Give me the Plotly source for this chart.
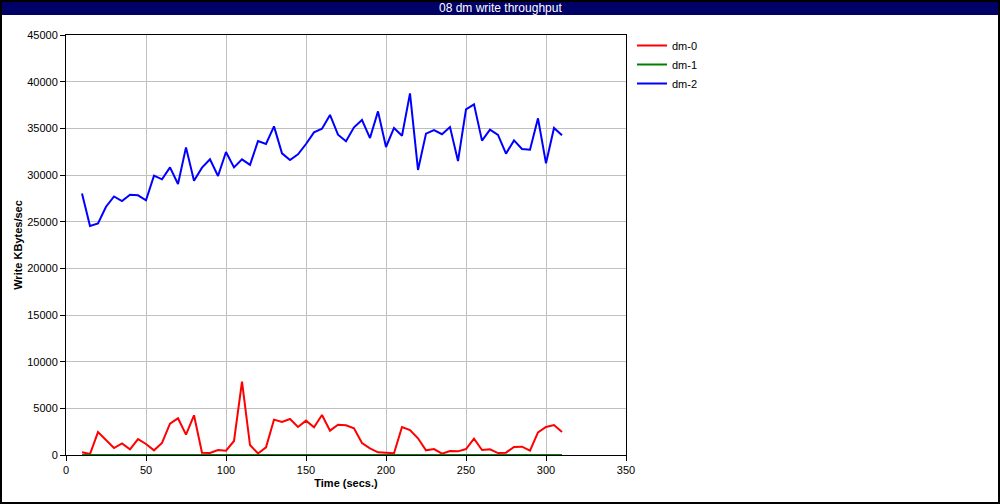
import plotly.graph_objects as go

time_s = list(range(10, 311, 5))

dm0 = [290, 100, 2460, 1610, 750, 1250, 610, 1710, 1180, 500,
       1290, 3360, 3930, 2180, 4250, 250, 210, 540, 460, 1500,
       7860, 1070, 160, 820, 3790, 3540, 3860, 3000, 3680, 2960,
       4290, 2610, 3250, 3180, 2860, 1290, 710, 290, 250, 180,
       3000, 2680, 1790, 500, 630, 140, 430, 390, 640, 1750,
       540, 610, 210, 250, 860, 890, 460, 2430, 3000, 3210, 2460]

dm1 = [0] * len(time_s)

dm2 = [28030, 24540, 24800, 26600, 27700, 27210, 27890, 27820, 27290, 29930,
       29540, 30820, 29040, 32960, 29390, 30790, 31680, 29890, 32460, 30820,
       31680, 31090, 33630, 33320, 35210, 32320, 31610, 32210, 33320, 34570,
       34960, 36430, 34320, 33610, 35110, 35890, 33960, 36820, 33000, 35040,
       34210, 38750, 30540, 34430, 34820, 34370, 35140, 31500, 37040, 37570,
       33680, 34860, 34290, 32290, 33710, 32790, 32710, 36070, 31250, 35040, 34250]

series = [("dm-0", dm0, "#ff0000"), ("dm-1", dm1, "#008000"), ("dm-2", dm2, "#0000ff")]

x_ticks = [0, 50, 100, 150, 200, 250, 300, 350]
y_ticks = [0, 5000, 10000, 15000, 20000, 25000, 30000, 35000, 40000, 45000]

fig = go.Figure()
for name, vals, color in series:
    fig.add_trace(go.Scatter(x=time_s, y=vals, mode="lines", name=name,
                             line=dict(color=color, width=2)))

L, R, T, B = 66, 374, 35, 49
W, H = 1000, 504
pw, ph = W - L - R, H - T - B

fig.update_layout(
    width=W, height=H,
    margin=dict(l=L, r=R, t=T, b=B, pad=0),
    paper_bgcolor="white", plot_bgcolor="white",
    font=dict(family="Liberation Sans, Arial, sans-serif", size=11, color="black"),
    showlegend=True,
    legend=dict(x=1 + 6 / pw, y=1 + 4 / ph, xanchor="left", yanchor="top",
                font=dict(size=11), bgcolor="rgba(0,0,0,0)", tracegroupgap=0),
    shapes=[
        dict(type="rect", xref="paper", yref="paper",
             x0=-L / pw, x1=(W - L) / pw, y0=1 + (T - 15) / ph, y1=1 + T / ph,
             fillcolor="#000066", line=dict(width=0), layer="below"),
        dict(type="rect", xref="paper", yref="paper",
             x0=-(L - 1) / pw, x1=(W - L - 1) / pw, y0=-(B - 1) / ph, y1=1 + (T - 1) / ph,
             fillcolor="rgba(0,0,0,0)", line=dict(color="black", width=2)),
    ],
    annotations=[
        dict(text="08 dm write throughput", xref="paper", yref="paper",
             x=(W / 2 - L) / pw, y=1 + (T - 8) / ph, xanchor="center", yanchor="middle",
             showarrow=False, font=dict(color="white", size=12,
                                         family="Liberation Sans Narrow, Liberation Sans, sans-serif")),
    ],
)

fig.update_xaxes(range=[0, 350], tickvals=x_ticks, ticks="outside", ticklen=5,
                 tickcolor="black", showline=True, linecolor="black", linewidth=1,
                 mirror=True, showgrid=True, gridcolor="#c0c0c0", gridwidth=1,
                 zeroline=False, tickformat="d",
                 title=dict(text="<b>Time (secs.)</b>", standoff=4, font=dict(size=11)))
fig.update_yaxes(range=[0, 45000], tickvals=y_ticks, ticks="outside", ticklen=5,
                 tickcolor="black", showline=True, linecolor="black", linewidth=1,
                 mirror=True, showgrid=True, gridcolor="#c0c0c0", gridwidth=1,
                 zeroline=False, tickformat="d",
                 title=dict(text="<b>Write KBytes/sec</b>", standoff=2, font=dict(size=11)))

fig.write_html("out.html", config={"displayModeBar": False},
               post_script="document.body.style.margin='0';document.body.style.overflow='hidden';")
